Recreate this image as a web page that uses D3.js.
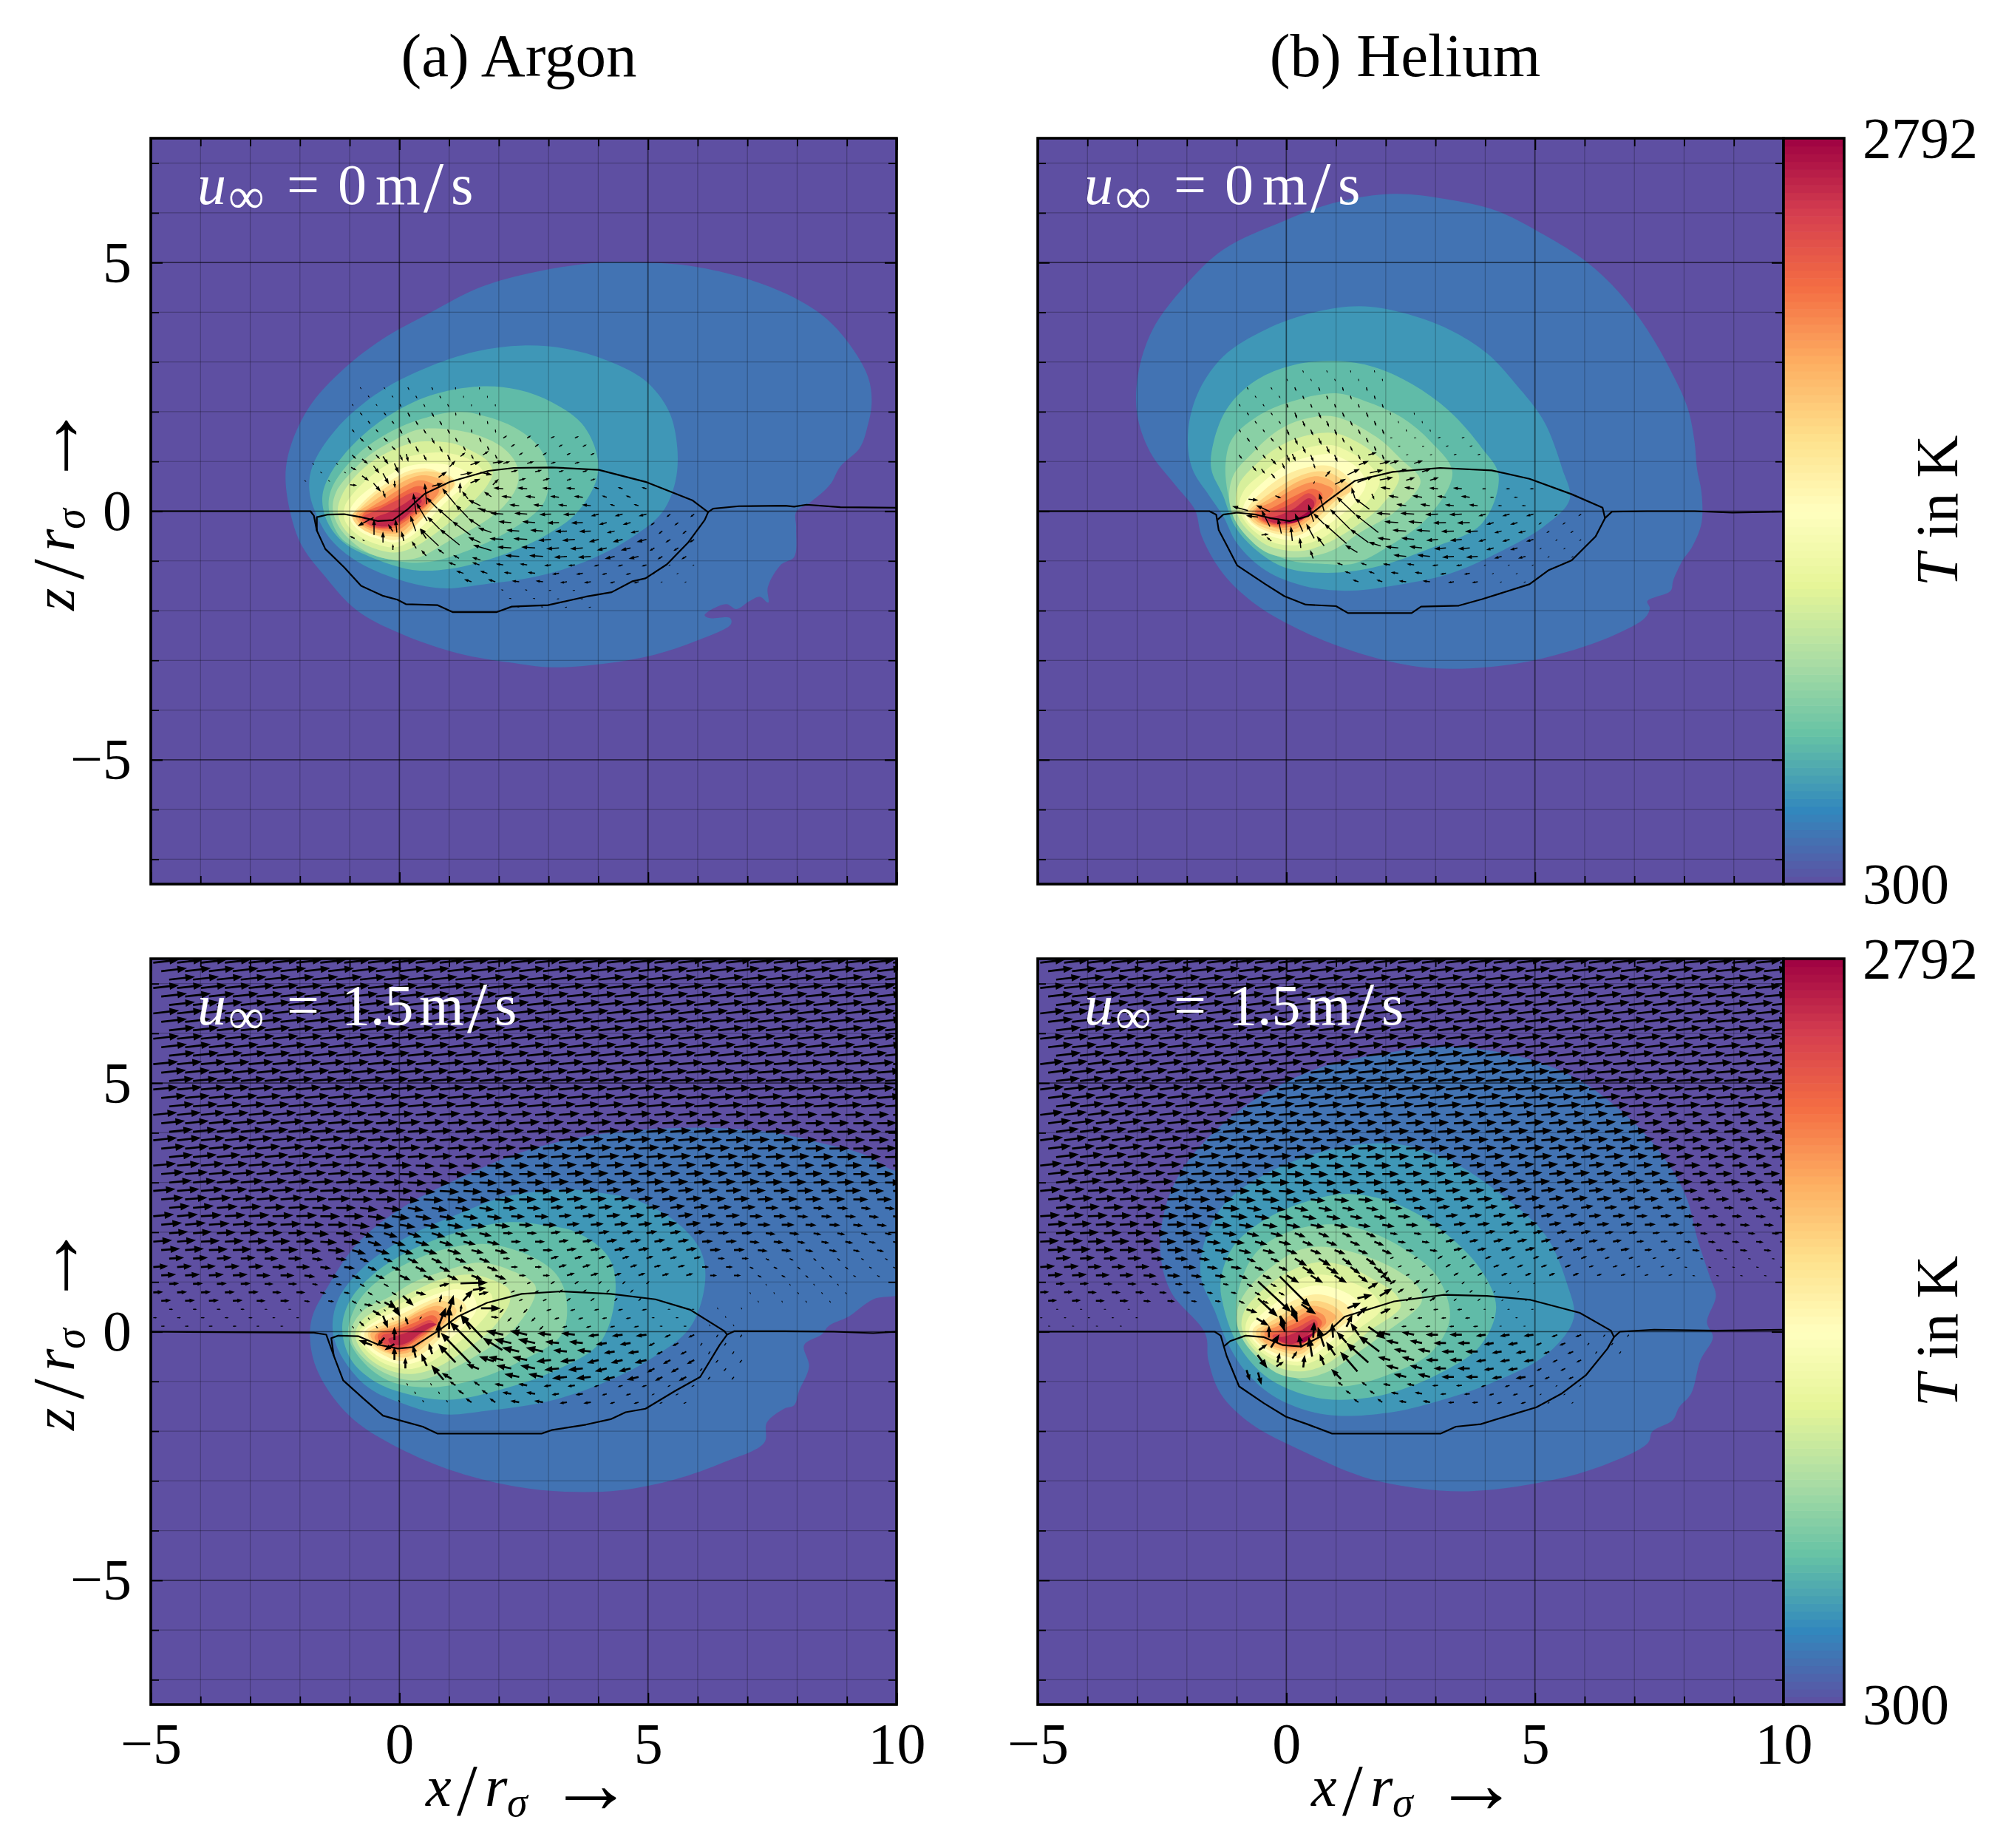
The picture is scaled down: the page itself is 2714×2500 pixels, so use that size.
<!DOCTYPE html>
<html><head><meta charset="utf-8">
<script src="https://cdn.jsdelivr.net/npm/d3@7"></script>
<style>html,body{margin:0;background:#fff}svg{display:block}text{font-family:"Liberation Serif",serif}</style>
</head><body><svg id="c" width="2714" height="2500"></svg>
<script>
const levelTemps=[300,456,612,767,923,1079,1235,1390,1546,1702,1858,2013,2169,2325,2481,2636,2792];
const spectralStops=[300,549,798,1048,1297,1546,1795,2044,2294,2543,2792];
const spectralColors=["#5e4fa2","#3288bd","#66c2a5","#abdda4","#e6f598","#ffffbf","#fee08b","#fdae61","#f46d43","#d53e4f","#9e0142"];
const xMajor=[-5,0,5,10], xMinor=[-4,-3,-2,-1,1,2,3,4,6,7,8,9];
const zMajor=[-5,0,5], zMinor=[-7,-6,-4,-3,-2,-1,1,2,3,4,6,7];
const cellX=[-5,-4,-3,-2,-1,0,1,2,3,4,5,6,7,8,9];
const bandTop=[7.5,6.5,5.5,4.5,3.5,3,2.5,2,1.5,1,.5,0,-.5,-1,-1.5];

/* isotherm outlines, [x/r, z/r], one list per level above the base colour */
const argonStillIso=[
[[4,5],[2.73,4.81],[1.62,4.5],[.6,3.98],[-.34,3.46],[-1.11,2.87],[-1.79,2.13],[-2.18,1.33],[-2.29,.71],[-2.18,-.09],[-1.96,-.7],[-1.54,-1.26],[-.85,-2],[.09,-2.49],[1.19,-2.86],[2.2,-3.04],[3.07,-3.14],[4.1,-3.07],[5.12,-2.89],[5.97,-2.61],[6.67,-2.27],[6.65,-2.15],[6.23,-2.15],[6.14,-2.09],[6.57,-1.87],[6.78,-1.97],[7.04,-1.81],[7.25,-1.72],[7.42,-1.84],[7.41,-1.53],[7.68,-1.07],[7.94,-.92],[7.98,-.33],[7.98,-.02],[8.28,.19],[8.66,.53],[8.87,.9],[9.26,1.27],[9.43,1.76],[9.5,2.19],[9.43,2.69],[9.05,3.36],[8.53,3.92],[7.76,4.38],[6.83,4.72],[5.8,4.94],[4.95,5]],
[[2.47,3.33],[1.54,3.21],[.51,2.87],[-.43,2.38],[-1.28,1.64],[-1.75,.9],[-1.81,.41],[-1.66,-.09],[-1.37,-.58],[-.85,-1.01],[0,-1.38],[.85,-1.55],[1.71,-1.47],[2.73,-1.32],[3.75,-1.01],[4.69,-.52],[5.29,-.02],[5.55,.59],[5.59,1.27],[5.42,2.01],[4.95,2.62],[4.18,3.03],[3.33,3.27]],
[[1.62,2.51],[.6,2.32],[-.26,1.89],[-.94,1.33],[-1.41,.71],[-1.55,.28],[-1.45,-.21],[-1.11,-.64],[-.51,-.95],[.26,-1.18],[1.02,-1.16],[2.05,-.89],[2.99,-.46],[3.58,-.02],[3.97,.65],[3.97,1.15],[3.67,1.76],[3.07,2.19],[2.39,2.44]],
[[1.19,2],[.34,1.82],[-.43,1.45],[-1.02,.96],[-1.38,.41],[-1.41,-.02],[-1.19,-.52],[-.77,-.79],[0,-1.01],[.6,-1.02],[1.28,-.83],[2.22,-.39],[2.9,.16],[3,.78],[2.82,1.27],[2.39,1.64],[1.79,1.89]],
[[.81,1.66],[.34,1.63],[-.15,1.4],[-.6,1.13],[-.97,.78],[-1.27,.39],[-1.34,.04],[-1.22,-.31],[-.97,-.6],[-.6,-.85],[-.1,-.98],[.4,-.93],[1,-.6],[1.6,-.28],[2.1,.1],[2.38,.55],[2.35,.95],[2.05,1.3],[1.5,1.55]],
[[.76,1.4],[.29,1.38],[-.2,1.2],[-.6,.96],[-.95,.63],[-1.17,.29],[-1.24,0],[-1.14,-.31],[-.9,-.55],[-.5,-.75],[-.05,-.83],[.34,-.7],[.84,-.36],[1.38,.09],[1.78,.54],[1.88,.78],[1.78,1],[1.48,1.2],[1.13,1.35]],
[[.69,1.18],[.19,1.1],[-.25,.93],[-.6,.68],[-.9,.39],[-1.1,.09],[-1.1,-.18],[-.9,-.43],[-.55,-.63],[-.1,-.73],[.24,-.6],[.64,-.31],[1.04,.09],[1.43,.54],[1.68,.78],[1.48,1],[1.09,1.15]],
[[.64,.96],[.19,.91],[-.2,.73],[-.55,.49],[-.85,.24],[-1,0],[-.97,-.21],[-.75,-.43],[-.45,-.55],[-.1,-.63],[.19,-.53],[.54,-.23],[.89,.14],[1.28,.49],[1.43,.68],[1.28,.83],[.99,.93]],
[[.54,.86],[.19,.81],[-.15,.63],[-.5,.39],[-.77,.14],[-.9,-.03],[-.85,-.23],[-.65,-.41],[-.35,-.53],[-.08,-.58],[.17,-.46],[.44,-.18],[.79,.19],[1.13,.54],[1.06,.68],[.84,.78]],
[[.5,.8],[.15,.72],[-.15,.55],[-.5,.32],[-.8,.05],[-.95,-.08],[-.85,-.28],[-.55,-.46],[-.2,-.5],[.05,-.5],[.25,-.35],[.5,-.1],[.75,.15],[1.1,.55],[1,.68],[.8,.77]],
[[.45,.72],[.15,.63],[-.2,.42],[-.6,.14],[-.88,-.08],[-.8,-.25],[-.5,-.42],[-.15,-.45],[.05,-.42],[.25,-.25],[.5,-.02],[.7,.2],[.95,.52],[.8,.65]],
[[.4,.62],[.1,.5],[-.25,.28],[-.7,0],[-.82,-.1],[-.72,-.27],[-.4,-.38],[-.1,-.4],[.1,-.3],[.3,-.12],[.55,.1],[.8,.42],[.65,.56]],
[[.35,.5],[.05,.36],[-.3,.15],[-.72,-.05],[-.75,-.18],[-.5,-.33],[-.15,-.35],[.1,-.22],[.35,-.03],[.6,.2],[.58,.38],[.5,.48]],
[[.3,.38],[-.05,.22],[-.45,.02],[-.72,-.12],[-.55,-.3],[-.2,-.32],[.05,-.2],[.3,-.02],[.52,.18],[.48,.32]],
[[.3,.28],[.1,.15],[-.2,-.02],[-.5,-.15],[-.5,-.27],[-.2,-.3],[.05,-.17],[.3,.05],[.45,.2],[.4,.28]]
];
const heliumStillIso=[
[[2.14,6.38],[1,6.21],[-.04,5.84],[-1.27,5.26],[-2.03,4.54],[-2.69,3.65],[-2.98,2.76],[-3,1.95],[-2.74,1.19],[-2.22,.51],[-1.84,.03],[-1.7,-.51],[-1.27,-1.26],[-.61,-1.88],[.34,-2.42],[1.38,-2.83],[2.52,-3.11],[3.47,-3.17],[4.61,-3.07],[5.65,-2.83],[6.6,-2.49],[7.21,-2.15],[7.31,-1.95],[7.26,-1.81],[7.73,-1.6],[7.78,-1.4],[7.97,-.99],[8.16,-.72],[8.35,-.24],[8.35,.38],[8.26,.85],[8.21,1.4],[8.07,2.08],[7.73,2.83],[7.26,3.65],[6.69,4.4],[6.03,5.02],[5.18,5.56],[4.23,6.04],[3.18,6.28]],
[[1.48,4.12],[.53,3.99],[-.42,3.65],[-1.27,3.11],[-1.79,2.35],[-1.98,1.54],[-1.89,.85],[-1.55,.31],[-1.27,-.1],[-.99,-.65],[-.42,-1.19],[.34,-1.5],[1.19,-1.6],[2.14,-1.5],[3.28,-1.26],[4.23,-.85],[5.18,-.31],[5.7,.24],[5.55,.85],[5.18,1.81],[4.61,2.56],[4.04,3.17],[3.28,3.65],[2.33,3.99]],
[[1,3.02],[.15,2.94],[-.61,2.63],[-1.18,2.08],[-1.46,1.4],[-1.51,.85],[-1.27,.31],[-1.03,-.31],[-.61,-.78],[-.04,-1.13],[.82,-1.24],[1.76,-1.13],[2.81,-.78],[3.94,-.24],[4.27,.72],[3.94,1.26],[3.28,2.01],[2.52,2.56],[1.76,2.9]],
[[1,2.37],[.15,2.22],[-.51,1.95],[-1.08,1.47],[-1.22,.99],[-1.18,.38],[-.99,-.24],[-.51,-.72],[.06,-.99],[.72,-1.06],[1.37,-1.05],[2.07,-.7],[2.87,-.1],[3.34,.78],[2.9,1.4],[2.33,1.88],[1.57,2.22]],
[[.98,1.9],[.35,1.85],[-.2,1.6],[-.7,1.15],[-1.05,.75],[-1.15,.3],[-1.05,-.15],[-.8,-.5],[-.35,-.85],[.3,-.93],[.9,-.8],[1.5,-.42],[2.2,0],[2.7,.6],[2.3,1.05],[1.8,1.5]],
[[.98,1.57],[.4,1.52],[-.15,1.3],[-.6,.95],[-.95,.55],[-1.02,.2],[-.95,-.15],[-.65,-.5],[-.3,-.72],[.3,-.8],[.8,-.65],[1.4,-.3],[1.9,.1],[2.27,.7],[1.9,1.05],[1.5,1.35]],
[[.9,1.33],[.4,1.27],[-.1,1.05],[-.5,.75],[-.85,.42],[-.95,.12],[-.85,-.18],[-.55,-.48],[-.2,-.65],[.25,-.68],[.7,-.55],[1.2,-.2],[1.6,.15],[1.88,.6],[1.65,.95],[1.25,1.2]],
[[.9,1.15],[.4,1.08],[-.05,.9],[-.45,.6],[-.75,.3],[-.87,.05],[-.78,-.2],[-.5,-.42],[-.15,-.55],[.2,-.58],[.6,-.42],[1.05,-.12],[1.4,.2],[1.6,.55],[1.45,.85],[1.15,1.05]],
[[.75,.92],[.3,.85],[-.1,.68],[-.45,.42],[-.72,.15],[-.8,-.02],[-.72,-.2],[-.45,-.38],[-.1,-.48],[.2,-.5],[.5,-.35],[.8,-.08],[1.15,.25],[1.35,.52],[1.2,.72],[.95,.88]],
[[.6,.8],[.2,.68],[-.2,.45],[-.6,.15],[-.76,-.02],[-.68,-.2],[-.4,-.35],[-.05,-.43],[.22,-.42],[.5,-.25],[.75,-.02],[1,.22],[1.33,.45],[1.1,.65],[.85,.78]],
[[.55,.7],[.2,.58],[-.2,.33],[-.6,.08],[-.7,-.04],[-.6,-.2],[-.35,-.3],[-.02,-.38],[.2,-.35],[.45,-.18],[.7,.05],[1.1,.42],[.95,.58],[.75,.68]],
[[.5,.58],[.1,.42],[-.3,.18],[-.62,.02],[-.62,-.1],[-.45,-.25],[-.1,-.33],[.2,-.28],[.45,-.1],[.7,.13],[.95,.42],[.75,.54]],
[[.5,.45],[.1,.27],[-.3,.06],[-.6,-.03],[-.55,-.15],[-.3,-.27],[0,-.28],[.25,-.2],[.5,-.03],[.7,.2],[.72,.35],[.6,.43]],
[[.45,.36],[.1,.15],[-.3,-.02],[-.5,-.12],[-.4,-.22],[-.1,-.27],[.15,-.22],[.4,-.07],[.58,.12],[.6,.25]],
[[.45,.26],[.15,.05],[-.2,-.1],[-.42,-.14],[-.3,-.22],[-.05,-.25],[.15,-.2],[.35,-.08],[.55,.08],[.55,.2]],
[[.5,.02],[.3,-.1],[.1,-.18],[-.05,-.22],[.05,-.25],[.25,-.2],[.45,-.08],[.53,-.02]]
];
const argonFlowIso=[
[[6.25,4.1],[5.05,4.07],[3.75,3.93],[2.46,3.61],[1.17,3.07],[.07,2.5],[-.83,1.79],[-1.42,.94],[-1.77,.23],[-1.75,-.48],[-1.47,-1.12],[-.93,-1.76],[-.03,-2.33],[1.17,-2.83],[2.36,-3.12],[3.36,-3.22],[4.45,-3.19],[5.55,-2.97],[6.54,-2.62],[7.34,-2.23],[7.39,-1.83],[7.74,-1.55],[7.94,-1.48],[8.04,-1.19],[8.24,-.7],[8.14,-.27],[8.49,-.06],[8.64,.12],[9.03,.3],[9.53,.65],[10.2,.83],[10.2,3.1],[9.83,3.29],[9.33,3.57],[8.54,3.78],[7.54,4]],
[[3.36,2.86],[2.16,2.72],[1.17,2.36],[.07,1.86],[-.73,1.29],[-1.23,.65],[-1.34,.01],[-1.13,-.55],[-.63,-1.12],[-.03,-1.41],[.87,-1.66],[1.76,-1.59],[2.96,-1.41],[4.05,-1.05],[5.05,-.55],[5.85,.09],[6.15,1.01],[6.05,1.65],[5.55,2.22],[4.75,2.65],[4.05,2.79]],
[[2.16,2.2],[1.17,2],[.17,1.61],[-.53,1.15],[-.98,.65],[-1.15,.09],[-.98,-.55],[-.53,-.98],[.07,-1.23],[.97,-1.37],[2.06,-1.16],[3.16,-.77],[4.05,-.2],[4.35,.87],[4.2,1.51],[3.56,2],[2.86,2.15]],
[[1.76,1.76],[.87,1.65],[.07,1.33],[-.53,.94],[-.88,.51],[-1.03,-.06],[-.78,-.55],[-.23,-.98],[.57,-1.12],[1.46,-.98],[2.36,-.63],[3.26,-.06],[3.36,.65],[3.16,1.15],[2.66,1.51]],
[[1.6,1.39],[1,1.25],[.3,1],[-.2,.7],[-.7,.45],[-.95,.1],[-.95,-.2],[-.7,-.55],[-.25,-.85],[.3,-.98],[.9,-.82],[1.6,-.45],[2.3,.05],[2.72,.7],[2.72,.95],[2.2,1.25]],
[[1.45,1.15],[.9,1.07],[.3,.82],[-.25,.52],[-.7,.28],[-.88,0],[-.85,-.22],[-.6,-.55],[-.2,-.78],[.25,-.85],[.75,-.72],[1.4,-.32],[1.9,.1],[2.22,.6],[2.2,.85],[1.85,1.05]],
[[1.2,.97],[.7,.87],[.2,.65],[-.3,.4],[-.68,.15],[-.82,-.02],[-.78,-.22],[-.5,-.52],[-.15,-.7],[.25,-.75],[.65,-.6],[1.15,-.25],[1.55,.1],[1.85,.5],[1.85,.75],[1.6,.9]],
[[1.1,.85],[.65,.72],[.15,.5],[-.35,.28],[-.7,.05],[-.78,-.05],[-.7,-.25],[-.45,-.48],[-.1,-.63],[.2,-.65],[.55,-.52],[.95,-.2],[1.3,.1],[1.55,.45],[1.5,.7],[1.35,.82]],
[[.95,.72],[.55,.6],[.1,.38],[-.4,.18],[-.68,.02],[-.7,-.1],[-.55,-.32],[-.3,-.48],[-.05,-.58],[.2,-.57],[.5,-.42],[.8,-.15],[1.1,.15],[1.35,.45],[1.25,.62]],
[[.85,.62],[.5,.5],[.1,.28],[-.4,.1],[-.62,0],[-.62,-.12],[-.45,-.33],[-.2,-.45],[.05,-.52],[.25,-.48],[.5,-.3],[.75,-.08],[1,.18],[1.15,.42],[1.05,.55]],
[[.75,.52],[.4,.4],[.05,.2],[-.4,.04],[-.58,-.04],[-.52,-.2],[-.3,-.38],[-.05,-.45],[.18,-.42],[.45,-.25],[.68,-.03],[.9,.18],[1,.38],[.9,.48]],
[[.7,.43],[.35,.3],[0,.12],[-.45,-.03],[-.5,-.12],[-.35,-.3],[-.1,-.4],[.15,-.37],[.4,-.2],[.6,-.02],[.82,.18],[.85,.32]],
[[.65,.33],[.3,.18],[-.05,.05],[-.42,-.05],[-.42,-.17],[-.25,-.3],[-.03,-.35],[.15,-.3],[.4,-.13],[.62,.03],[.77,.2],[.75,.28]],
[[.6,.23],[.25,.08],[-.1,-.02],[-.35,-.08],[-.35,-.2],[-.15,-.3],[.05,-.3],[.25,-.2],[.45,-.05],[.65,.1],[.7,.18]],
[[.6,.17],[.25,.02],[-.1,-.1],[-.22,-.15],[-.18,-.24],[0,-.27],[.2,-.2],[.4,-.05],[.6,.07],[.75,.15]]
];
const heliumFlowIso=[
[[3.16,5.74],[2.04,5.61],[.8,5.35],[-.32,4.86],[-1.32,4.14],[-2.07,3.3],[-2.44,2.47],[-2.53,1.56],[-2.32,.8],[-1.63,-.04],[-1.57,-.57],[-1.32,-1.25],[-.7,-1.86],[.3,-2.39],[1.54,-2.92],[2.67,-3.15],[3.66,-3.21],[4.91,-3.07],[6.15,-2.77],[7.27,-2.24],[7.36,-2.01],[7.77,-1.78],[7.9,-1.52],[8.14,-1.25],[8.33,-.57],[8.58,-.11],[8.46,.19],[8.64,.72],[8.52,1.1],[8.27,1.86],[8.02,2.77],[7.4,3.76],[6.65,4.51],[5.78,5.12],[4.66,5.54]],
[[1.92,3.79],[.8,3.64],[-.32,3.22],[-1.2,2.62],[-1.63,1.86],[-1.72,1.1],[-1.44,.42],[-1.2,-.19],[-.82,-.8],[-.2,-1.33],[.8,-1.67],[2.04,-1.63],[3.04,-1.4],[4.16,-1.02],[5.28,-.42],[5.78,.27],[5.65,.95],[5.22,1.93],[4.41,2.69],[3.41,3.38],[2.67,3.68]],
[[1.3,2.77],[.42,2.62],[-.45,2.24],[-1.07,1.71],[-1.32,1.02],[-1.26,.49],[-1.01,-.19],[-.45,-.87],[.3,-1.25],[1.05,-1.37],[2.04,-1.25],[3.16,-.8],[3.91,-.27],[4.22,.49],[3.91,1.25],[3.16,2.01],[2.29,2.54]],
[[.92,2.16],[.05,2.01],[-.57,1.63],[-.88,1.1],[-1.01,.42],[-.76,-.27],[-.2,-.72],[.42,-1.02],[1.17,-1.1],[2.04,-.87],[2.91,-.42],[3.29,.27],[3.04,1.1],[2.42,1.63],[1.67,2.01]],
[[.7,1.71],[.2,1.62],[-.3,1.3],[-.7,.95],[-.95,.55],[-1,.2],[-.85,-.2],[-.55,-.55],[-.15,-.85],[.35,-.93],[.85,-.8],[1.4,-.45],[1.95,-.05],[2.72,.6],[2.65,.9],[2.2,1.25],[1.5,1.55]],
[[.7,1.4],[.25,1.3],[-.2,1.05],[-.6,.72],[-.85,.4],[-.9,.1],[-.78,-.2],[-.5,-.5],[-.15,-.72],[.3,-.8],[.75,-.68],[1.2,-.38],[1.65,0],[2.3,.5],[2.2,.75],[1.75,1.05],[1.25,1.3]],
[[.7,1.15],[.25,1.05],[-.2,.8],[-.55,.52],[-.78,.25],[-.82,.02],[-.7,-.22],[-.45,-.45],[-.1,-.62],[.28,-.68],[.65,-.55],[1.05,-.28],[1.45,.05],[1.9,.45],[1.75,.75],[1.3,1]],
[[.65,.93],[.25,.85],[-.15,.62],[-.5,.35],[-.72,.12],[-.74,-.05],[-.62,-.22],[-.38,-.42],[-.08,-.55],[.25,-.6],[.55,-.47],[.9,-.2],[1.3,.1],[1.55,.4],[1.4,.65],[1.05,.85]],
[[.6,.75],[.2,.65],[-.15,.45],[-.45,.22],[-.67,.05],[-.66,-.1],[-.5,-.28],[-.25,-.42],[0,-.5],[.25,-.53],[.5,-.4],[.8,-.15],[1.1,.1],[1.35,.33],[1.2,.55],[.9,.7]],
[[.55,.62],[.2,.5],[-.15,.3],[-.45,.12],[-.6,.03],[-.58,-.12],[-.4,-.28],[-.15,-.38],[.1,-.45],[.3,-.45],[.5,-.3],[.75,-.08],[.95,.1],[1.15,.3],[1,.48],[.8,.58]],
[[.5,.52],[.2,.4],[-.15,.2],[-.45,.05],[-.52,-.03],[-.45,-.2],[-.2,-.32],[.05,-.38],[.28,-.38],[.5,-.22],[.7,-.02],[.88,.15],[1,.3],[.8,.45]],
[[.5,.42],[.2,.28],[-.2,.1],[-.43,0],[-.42,-.12],[-.2,-.25],[.05,-.33],[.28,-.32],[.5,-.15],[.65,.02],[.8,.18],[.75,.33]],
[[.5,.33],[.2,.18],[-.15,.03],[-.35,-.05],[-.3,-.15],[-.1,-.25],[.1,-.3],[.3,-.27],[.5,-.1],[.65,.05],[.72,.18],[.65,.28]],
[[.55,.25],[.25,.1],[-.1,-.03],[-.28,-.08],[-.2,-.18],[0,-.25],[.15,-.28],[.3,-.23],[.5,-.05],[.62,.08],[.62,.2]],
[[.55,.18],[.3,.03],[-.05,-.1],[-.2,-.12],[-.1,-.2],[.1,-.25],[.3,-.18],[.45,-.05],[.58,.08],[.6,.15]],
[[.55,-.02],[.35,-.12],[.2,-.2],[.35,-.22],[.5,-.1],[.6,0]]
];

/* melt-pool outlines: left surface + pool bottom + right surface, and the keyhole-side top */
const argonStillPool=[[-5,0],[-1.79,0],[-1.72,-.09],[-1.66,-.39],[-1.49,-.76],[-1.11,-1.13],[-.77,-1.5],[-.34,-1.7],[-.04,-1.78],[.13,-1.87],[.77,-1.89],[1.07,-2.03],[1.96,-2.03],[2.26,-1.92],[2.99,-1.89],[3.75,-1.72],[4.27,-1.63],[4.69,-1.41],[4.95,-1.35],[5.38,-1.07],[5.8,-.64],[6.14,-.18],[6.21,-.02],[6.31,.05],[6.83,.1],[7.76,.11],[7.94,.09],[8.19,.13],[8.87,.08],[10,.07]];
const argonStillTop=[[6.21,-.02],[5.89,.22],[4.95,.59],[4.01,.83],[3.07,.88],[2.3,.87],[1.79,.81],[1.02,.59],[.51,.35],[.17,.04],[-.13,-.18],[-.43,-.2],[-.77,-.12],[-1.11,-.06],[-1.45,-.07],[-1.66,-.12],[-1.66,-.39]];
const heliumStillPool=[[-5,0],[-1.55,0],[-1.41,-.07],[-1.36,-.38],[-1.18,-.72],[-.99,-1.09],[-.42,-1.47],[-.04,-1.71],[.39,-1.88],[1,-1.91],[1.24,-2.05],[2.52,-2.05],[2.71,-1.92],[3.47,-1.9],[3.94,-1.77],[4.89,-1.47],[5.27,-1.19],[5.74,-.99],[6.22,-.51],[6.41,-.14],[6.55,-.01],[7.26,0],[8.21,0],[8.97,-.03],[10,-.01]];
const heliumStillTop=[[6.41,-.14],[6.36,.07],[5.74,.34],[4.89,.65],[4.13,.82],[3.09,.87],[2.14,.79],[1.38,.61],[.82,.2],[.44,-.1],[.06,-.2],[-.32,-.14],[-.61,-.07],[-.99,-.03],[-1.27,-.07],[-1.38,-.17]];
const argonFlowPool=[[-5,0],[-1.72,-.02],[-1.47,-.06],[-1.32,-.48],[-1.13,-.98],[-.73,-1.34],[-.33,-1.69],[.07,-1.8],[.47,-1.91],[.77,-2.05],[2.86,-2.05],[3.06,-1.98],[3.75,-1.87],[4.25,-1.76],[4.55,-1.62],[4.95,-1.55],[5.55,-1.19],[6.05,-.91],[6.44,-.27],[6.59,-.06],[6.74,.01],[7.74,.01],[8.74,0],[9.53,-.03],[10,0]];
const argonFlowTop=[[6.59,-.06],[6.54,.01],[5.85,.44],[5.15,.65],[4.25,.76],[3.26,.81],[2.46,.76],[1.76,.58],[1.17,.3],[.77,.01],[.27,-.31],[-.03,-.34],[-.43,-.26],[-.83,-.09],[-1.23,-.08],[-1.37,-.13],[-1.32,-.48]];
const heliumFlowPool=[[-5,0],[-1.44,0],[-1.32,-.08],[-1.2,-.49],[-.95,-1.1],[-.45,-1.44],[-.01,-1.71],[.42,-1.86],[.92,-2.05],[3.1,-2.05],[3.41,-1.91],[3.91,-1.86],[4.53,-1.67],[5.03,-1.52],[5.53,-1.25],[6.03,-.87],[6.46,-.34],[6.59,-.11],[6.71,0],[7.4,.04],[8.64,.02],[10,.04]];
const heliumFlowTop=[[6.59,-.11],[6.53,.02],[5.9,.38],[4.91,.64],[4.03,.72],[3.16,.74],[2.17,.61],[1.17,.3],[.8,-.04],[.3,-.3],[-.07,-.27],[-.45,-.11],[-.82,-.08],[-1.13,-.19],[-1.26,-.3]];

/* flow read per cell (hundredths of an arrow length in x/r units): rows follow bandTop, columns follow cellX */
const z15=[0,0,0,0,0,0,0,0,0,0,0,0,0,0,0];
const argonStillU=[z15,z15,z15,z15,
[0,0,0,0,0,1,1,1,0,0,0,0,0,0,0],
[0,0,0,0,1,1,0,-1,0,0,0,0,0,0,0],
[0,0,0,1,3,3,0,-1,-1,0,0,0,0,0,0],
[0,0,0,2,5,5,1,-1,-1,0,0,0,0,0,0],
[0,0,0,3,8,6,4,8,8,2,0,0,0,0,0],
[0,0,0,4,0,0,0,14,10,3,1,0,0,0,0],
[0,0,0,1,0,0,0,-20,-18,-10,-3,1,0,0,0],
[0,0,0,0,0,0,0,-26,-24,-16,-8,-1,0,0,0],
[0,0,0,0,0,0,0,-28,-26,-20,-10,-1,0,0,0],
[0,0,0,0,-2,-2,-15,-15,-14,-10,-4,0,0,0,0],
[0,0,0,0,0,0,-4,-5,-5,-3,0,0,0,0,0]];
const argonStillV=[z15,z15,z15,z15,
[0,0,0,0,-2,-3,-2,-1,0,0,0,0,0,0,0],
[0,0,0,-1,-3,-4,-3,-2,0,0,0,0,0,0,0],
[0,0,0,-2,-4,-6,-5,-3,-1,0,0,0,0,0,0],
[0,0,-1,-3,-6,-9,-7,-3,-1,0,0,0,0,0,0],
[0,0,0,-3,-8,-12,-9,5,4,1,0,0,0,0,0],
[0,0,0,-3,0,0,0,4,3,2,1,0,0,0,0],
[0,0,0,0,0,0,0,2,2,3,-3,2,0,0,0],
[0,0,0,0,0,0,0,2,-1,-4,-6,-4,0,0,0],
[0,0,0,0,0,0,0,2,-2,-5,-6,-2,0,0,0],
[0,0,0,0,3,3,5,2,-2,-3,-2,0,0,0,0],
[0,0,0,0,0,0,1,1,-1,-1,0,0,0,0,0]];
const heliumStillU=[z15,z15,z15,z15,
[0,0,0,0,0,1,1,0,0,0,0,0,0,0,0],
[0,0,0,0,1,2,1,0,0,0,0,0,0,0,0],
[0,0,0,1,3,3,2,1,0,0,0,0,0,0,0],
[0,0,0,2,4,5,4,1,0,0,0,0,0,0,0],
[0,0,0,2,6,6,4,5,6,1,0,0,0,0,0],
[0,0,0,2,0,0,0,18,4,1,0,0,0,0,0],
[0,0,0,0,0,0,0,-20,-18,-8,-2,0,0,0,0],
[0,0,0,0,0,0,0,-28,-26,-15,-6,-1,0,0,0],
[0,0,0,0,0,0,0,-26,-24,-15,-4,0,0,0,0],
[0,0,0,0,0,0,-12,-15,-12,-4,0,0,0,0,0],
[0,0,0,0,0,0,-1,-3,-2,0,0,0,0,0,0]];
const heliumStillV=[z15,z15,z15,z15,
[0,0,0,0,-1,-3,-3,-1,0,0,0,0,0,0,0],
[0,0,0,0,-3,-5,-5,-2,0,0,0,0,0,0,0],
[0,0,0,-1,-5,-8,-8,-4,-1,0,0,0,0,0,0],
[0,0,0,-2,-6,-12,-10,-5,-1,0,0,0,0,0,0],
[0,0,0,-2,-8,-14,-10,1,2,1,0,0,0,0,0],
[0,0,0,-2,0,0,0,6,1,2,0,0,0,0,0],
[0,0,0,0,0,0,0,3,2,0,-2,0,0,0,0],
[0,0,0,0,0,0,0,2,-1,-4,-4,-1,0,0,0],
[0,0,0,0,0,0,0,3,-2,-4,-3,0,0,0,0],
[0,0,0,0,0,0,4,2,-2,-2,0,0,0,0,0],
[0,0,0,0,0,0,0,1,0,0,0,0,0,0,0]];
const argonFlowU=[
[52,52,52,52,52,52,52,52,52,52,52,52,52,52,52],
[52,52,52,52,52,52,52,52,52,52,52,52,52,52,52],
[50,50,50,50,50,50,50,50,50,50,50,50,50,50,50],
[48,48,48,46,44,42,42,42,42,42,42,40,40,40,40],
[46,46,45,44,40,38,36,36,36,36,36,36,34,34,34],
[45,45,45,45,42,40,38,35,32,30,32,32,32,32,30],
[42,42,42,40,36,32,30,28,26,28,30,28,26,22,20],
[38,38,36,34,28,28,25,20,20,22,22,22,20,16,14],
[30,30,28,22,18,22,22,14,16,14,14,14,8,6,6],
[20,20,18,12,10,0,0,8,8,6,2,3,2,3,3],
[8,8,6,3,4,0,0,-8,-10,-10,-6,-2,1,1,1],
[0,0,0,0,0,0,0,-35,-28,-22,-12,-4,0,0,0],
[0,0,0,0,0,0,0,-30,-30,-24,-15,-5,0,0,0],
[0,0,0,0,0,-3,-12,-18,-15,-10,-6,-2,0,0,0],
[0,0,0,0,0,0,-3,-4,-3,-2,-1,0,0,0,0]];
const argonFlowV=[
[6,6,6,6,6,6,6,6,6,6,6,6,6,6,6],
[6,6,6,6,6,6,6,6,6,6,6,6,6,6,6],
[5,5,5,5,5,5,5,5,5,5,4,4,4,4,4],
[5,5,5,4,3,3,3,3,3,3,3,2,2,1,1],
[4,4,4,3,1,-1,-1,0,2,2,2,2,1,1,0],
[4,4,4,2,0,-2,-2,0,2,3,3,2,1,1,0],
[4,3,2,0,-4,-5,-4,-1,2,3,4,2,0,-1,-2],
[3,2,1,-2,-8,-8,-6,0,3,4,4,1,-2,-3,-3],
[2,2,0,-3,-7,-10,-8,0,5,5,4,0,-4,-5,-3],
[1,1,0,-2,-6,0,0,4,6,6,2,3,-4,-4,-3],
[0,0,0,0,-5,0,0,-8,-3,-2,0,4,1,0,0],
[0,0,0,0,0,0,0,8,3,-3,-6,-6,0,0,0],
[0,0,0,0,0,0,0,6,-3,-6,-8,-6,0,0,0],
[0,0,0,0,0,5,8,3,-2,-3,-3,-2,0,0,0],
[0,0,0,0,0,0,1,1,0,-1,-1,0,0,0,0]];
const heliumFlowU=[
[50,50,50,50,50,50,50,50,50,50,50,50,50,50,50],
[50,50,50,50,50,50,50,50,50,50,50,50,50,50,50],
[48,48,48,48,48,48,48,48,48,48,48,48,48,48,48],
[46,46,46,44,42,40,38,38,38,38,38,38,36,36,36],
[44,44,44,42,38,36,34,32,32,34,34,32,32,32,32],
[42,42,42,38,34,30,30,30,30,30,30,30,28,26,26],
[40,40,38,34,30,28,25,25,25,25,25,25,22,20,20],
[38,36,34,28,25,22,20,16,18,20,20,18,15,15,15],
[30,28,26,22,18,25,20,8,10,12,12,10,8,6,6],
[18,18,15,12,12,0,0,12,6,4,1,1,1,1,1],
[5,5,4,2,0,0,0,-10,-10,-5,-2,-1,1,1,1],
[0,0,0,0,0,0,0,-25,-25,-20,-12,-4,0,0,0],
[0,0,0,0,0,0,0,-25,-25,-20,-10,-3,0,0,0],
[0,0,0,0,-2,-1,-10,-15,-12,-10,-4,-1,0,0,0],
[0,0,0,0,0,0,-2,-3,-3,-2,-1,0,0,0,0]];
const heliumFlowV=[
[6,6,6,6,6,6,6,6,6,6,6,6,6,5,5],
[6,6,6,6,6,6,6,6,6,6,6,6,6,5,5],
[6,6,6,6,6,5,5,5,5,4,4,4,4,4,4],
[6,6,5,4,3,2,2,2,2,3,3,3,3,2,2],
[5,4,3,2,0,-1,0,1,2,3,3,3,2,1,1],
[4,3,2,0,-2,-3,-2,0,2,4,4,3,2,1,0],
[3,2,1,-2,-4,-5,-4,-1,3,4,4,2,1,0,-1],
[2,1,0,-3,-6,-8,-8,-2,4,5,5,3,1,-1,-1],
[2,1,-1,-3,-7,-15,-14,3,6,5,5,3,2,-1,-1],
[1,0,-1,-2,-6,0,0,8,5,3,1,2,0,0,0],
[0,0,0,0,0,0,0,-1,-1,0,0,0,0,0,0],
[0,0,0,0,0,0,0,5,0,-3,-5,-5,0,0,0],
[0,0,0,0,0,0,0,6,0,-3,-5,-3,0,0,0],
[0,0,0,0,-3,3,7,3,-1,-3,-3,-1,0,0,0],
[0,0,0,0,0,0,1,0,0,-1,0,0,0,0,0]];

/* individually read arrows near the heat source: [x, z, dx, dz] */
const argonStillArrows=[[-.75,1.05,.12,-.1],[-.52,.91,.12,-.15],[-.33,1.1,.11,-.16],[-.1,.96,.09,-.2],[-.33,.76,.12,-.22],[-.52,.56,.15,-.17],[-.75,.71,.14,-.1],[-.97,.88,.11,-.06],[-.1,.61,.01,-.15],[-.33,.41,.05,-.15],[-.99,.53,.14,-.01],[.14,1.15,.04,-.16],[.79,.68,.17,.12],[1.01,.89,.12,.13],[1.43,.93,.2,.07],[1.88,.97,.22,.03],[1.23,1.1,.1,.08],[1.68,1.13,.12,.08],[1.23,.73,.25,.05],[1.63,.78,.24,-.05],[1.43,.57,.2,.08],[.66,.5,.22,.06],[1.88,.53,.12,.12],
[1.22,.37,0,.21],[1.63,-.31,-.25,.17],[1.38,-.13,-.25,.26],[1.13,.13,-.27,.33],[1.43,-.48,-.37,.28],[1.06,-.2,-.3,.26],[.76,.06,-.22,.22],[1.21,-.68,-.4,.32],[.81,-.36,-.25,.25],[.79,-.7,-.37,.35],[.56,-.2,-.22,.37],[.33,-.4,-.11,.31],[.34,-.06,-.06,.42],[.55,.14,-.04,.42],[-.05,-.43,-.03,.27],[-.33,-.63,0,.22],[-.51,-.48,0,.32],[-.13,-.41,-.1,.15],[-.52,-.13,-.32,-.17],[.09,-.6,-.05,.2],[.34,-.75,-.09,.15],[.54,-.55,-.13,.2],[-.13,-.78,0,.12],[.54,-.9,-.1,.12],[-.7,-.6,-.05,.03],[-.9,-.55,-.1,.05],
[1.63,.11,-.25,.12],[1.38,.25,-.12,.15],[1.85,.29,-.15,.1],[1.68,.04,-.12,.02],[1.98,-.06,-.37,.1],[1.85,-.43,-.27,.1],[1.63,-.63,-.25,.11],[1.85,-.79,-.37,.11],[1.63,-.98,-.17,.05],[.89,-.85,-.12,.09],[1.2,-.95,-.12,.07]];
const heliumStillArrows=[[-.3,1.05,.1,-.12],[.12,1.15,.07,-.15],[-.08,.96,.05,-.12],[-.5,.85,.07,-.1],[-.68,.9,.08,-.1],[-.3,.75,.08,-.1],[.55,.95,.03,-.1],
[-.77,.01,-.32,.09],[-.33,-.01,-.28,.13],[-.57,-.12,-.24,.03],[-.33,-.31,-.17,.33],[-.1,-.45,-.07,.31],[.12,-.6,-.03,.3],[.33,-.41,-.16,.37],[.56,-.55,-.16,.3],[.55,-.21,-.11,.35],[.76,0,-.1,.36],[.29,-.74,-.02,.21],[.76,-.7,-.15,.2],[1.21,-.65,-.45,.4],[.76,-.26,-.22,.22],[1.65,-.63,-.37,.27],[1.28,-.36,-.4,.4],[1.85,-.43,-.47,.37],[1.38,-.06,-.37,.35],[1.67,.04,-.3,.22],[1.38,.26,-.07,.22],[1.43,-.83,-.25,.15],[1.9,-.7,-.25,.08],[.54,-.95,-.06,.17],[-.5,-.48,.15,.02],[-.3,-.6,-.1,.08],
[.79,.7,.1,.12],[.98,.54,.22,.11],[1.23,.73,.25,.12],[1.46,.93,.2,.08],[1.68,.77,.27,.06],[1.43,.58,.32,.12],[1.88,.63,.27,.05],[1.88,.95,.22,.06],[1.65,1.13,.17,.05],[-.76,.24,.2,-.02],[-.22,.31,.12,-.05],[1.72,.35,.05,-.12],[.55,.55,.02,.06]];
const argonFlowArrows=[[-.1,-.57,0,.27],[-.1,-.17,0,.27],[.12,-.74,0,.22],[.33,-.52,-.06,.25],[.55,-.69,-.11,.25],[.66,-.45,-.07,.22],[.79,-.12,0,.32],[.79,.12,.15,.37],[1,.05,0,.47],[.99,.37,.1,.37],[1.23,.4,.02,.15],[1.28,.62,.2,.22],[1.48,.84,.27,.04],[.81,.6,.04,.15],[1.43,.05,-.2,.3],[1.67,-.12,-.45,.47],[2.07,-.37,-.4,.25],[1.63,-.42,-.62,.62],[1.43,-.64,-.6,.62],[1.13,-.62,-.35,.37],[.89,-.97,-.25,.3],[-.55,-.27,-.27,.1],[-.3,-.12,-.15,-.17],[-.1,-.25,-.2,-.12],[.17,.15,-.05,.15],[-.33,.32,.1,-.25],[-.53,.42,.17,-.1],[-.18,.62,.2,-.32],[.07,.72,.22,-.2],[.34,.79,.2,-.05],[-.3,.59,.22,-.12],[-.7,.55,.17,-.03],[.81,.92,.2,.05],[1.23,.97,.55,.02],[1.64,.47,.4,0],[1.05,-.95,-.2,.12],[.2,-.98,.03,-.02],[.45,.3,-.05,-.05],[1.6,.75,.2,.05],[1.85,.3,.15,-.02],[1.6,-.75,-.25,.1],[1.9,-.6,-.3,.1],[-.8,.2,.1,-.1]];
const heliumFlowArrows=[[-.18,-.62,.05,.2],[-.58,-.47,.2,-.27],[-.55,-.37,.17,.12],[-.31,-.32,.17,.27],[-.35,-.12,0,.25],[-.03,0,-.08,.33],[.22,.2,-.12,.32],[.34,-.72,.03,.25],[.12,-.54,.1,.15],[.3,-.32,-.05,.27],[.52,-.5,-.07,.4],[.76,-.3,-.13,.4],[.54,-.12,.02,.32],[.76,-.67,-.09,.22],[.98,-.47,-.18,.27],[1.21,.1,.12,.25],[.94,-.12,-.02,.3],[1.87,-.4,-.42,.32],[1.46,-.07,-.17,.25],[1.65,-.62,-.45,.4],[1.21,-.22,-.2,.22],[1.43,-.8,-.35,.4],[1.1,-.95,-.2,.2],[-.13,1.11,.62,-.62],[-.57,1.01,.67,-.62],[-.8,.45,.22,-.07],[-.6,.27,.25,-.15],[-.57,.67,.4,-.37],[.09,.52,.14,-.32],[-.13,.32,.1,-.32],[-.8,-.77,.07,-.22],[-.57,-.82,.07,-.25],[1.23,.47,.27,.11],[1.43,.67,.3,.07],[1.43,.32,.2,.19],[1.88,.72,.25,.15],[1.9,.37,.2,.1],[1.65,.87,.2,.12],[1.9,1.09,.15,.12],[1.65,.1,.35,-.25],[.3,.55,.3,-.2],[-.2,-.7,.15,.1]];

const titleLabels=["(a) Argon","(b) Helium"];
const speedLabels=["0","1.5"];
const cbarLabels=["300","2792"];

const color=d3.scaleLinear().domain(spectralStops).range(spectralColors).interpolate(d3.interpolateRgb);
const W=1009,H=1009;
const x=d3.scaleLinear().domain([-5,10]).range([0,W]);
const y=d3.scaleLinear().domain([7.5,-7.5]).range([0,H]);
const cellZ=d3.scaleThreshold().domain(bandTop.slice(1).reverse()).range(d3.range(bandTop.length-1,-1,-1));
const lattice=[];
d3.range(7.42,-2,-.17).forEach((z,j)=>{d3.range(-5+.05+(j%3)*.16,10,.48).forEach(px=>lattice.push([px,z]));});
const svg=d3.select("#c");
const defs=svg.append("defs");
const line=d3.line().x(d=>x(d[0])).y(d=>y(d[1]));
const closed=d3.line().x(d=>x(d[0])).y(d=>y(d[1])).curve(d3.curveCatmullRomClosed.alpha(.5));

function arrow(px,pz,dx,dz,o){
  const a=x(px),b=y(pz),c=x(px+dx),d=y(pz+dz),L=Math.hypot(c-a,d-b);
  if(L<3)return "";
  const ux=(c-a)/L,uy=(d-b)/L,nx=-uy,ny=ux;
  const hl=Math.min(o.hl,L*.55),hw=hl*o.hw,sw=Math.min(o.sw,L*.08+.25);
  const p=[[a+nx*sw,b+ny*sw],[c-ux*hl+nx*sw,d-uy*hl+ny*sw],[c-ux*hl+nx*hw,d-uy*hl+ny*hw],[c,d],[c-ux*hl-nx*hw,d-uy*hl-ny*hw],[c-ux*hl-nx*sw,d-uy*hl-ny*sw],[a-nx*sw,b-ny*sw]];
  return "M"+p.map(q=>q[0].toFixed(1)+","+q[1].toFixed(1)).join("L")+"Z";
}
function panel(id,left,top,iso,U,V,extra,pool,poolTop,o){
  const g=svg.append("g").attr("transform",`translate(${left},${top})`);
  defs.append("clipPath").attr("id",id).append("rect").attr("width",W).attr("height",H);
  const plot=g.append("g").attr("clip-path",`url(#${id})`);
  plot.append("rect").attr("width",W).attr("height",H).attr("fill",color(levelTemps[0]));
  plot.selectAll("path.iso").data(iso).join("path").attr("class","iso").attr("d",closed).attr("fill",(d,i)=>color(levelTemps[i+1]));
  plot.selectAll("line.vmin").data(xMinor).join("line").attr("class","vmin").attr("x1",x).attr("x2",x).attr("y2",H).attr("stroke","#000").attr("stroke-opacity",.25).attr("stroke-width",1.2);
  plot.selectAll("line.hmin").data(zMinor).join("line").attr("class","hmin").attr("y1",y).attr("y2",y).attr("x2",W).attr("stroke","#000").attr("stroke-opacity",.25).attr("stroke-width",1.2);
  plot.selectAll("line.vmaj").data(xMajor).join("line").attr("class","vmaj").attr("x1",x).attr("x2",x).attr("y2",H).attr("stroke","#000").attr("stroke-opacity",.55).attr("stroke-width",1.7);
  plot.selectAll("line.hmaj").data(zMajor).join("line").attr("class","hmaj").attr("y1",y).attr("y2",y).attr("x2",W).attr("stroke","#000").attr("stroke-opacity",.55).attr("stroke-width",1.7);
  const field=lattice.map(([px,pz])=>{
    const row=cellZ(pz),col=Math.max(0,Math.floor(px+5));
    return [px,pz,U[row][col]/100,V[row][col]/100];
  }).filter(d=>d[2]||d[3]).concat(extra);
  plot.append("path").attr("fill","#000").attr("d",field.map(d=>arrow(d[0],d[1],d[2],d[3],o)).join(""));
  plot.append("path").datum(pool).attr("d",line).attr("fill","none").attr("stroke","#000").attr("stroke-width",2.2).attr("stroke-linejoin","round");
  plot.append("path").datum(poolTop).attr("d",line).attr("fill","none").attr("stroke","#000").attr("stroke-width",2.2).attr("stroke-linejoin","round");
  return g;
}
function axes(g,labelX,labelY){
  const fs=78;
  const add=(ax,tr,vals,size,w,fmt,pad)=>{
    const a=g.append("g").attr("transform",tr).call(ax.tickValues(vals).tickSizeOuter(0).tickSizeInner(size).tickPadding(pad).tickFormat(fmt));
    a.select(".domain").remove();
    a.selectAll("line").attr("stroke","#000").attr("stroke-width",w);
    a.selectAll("text").attr("font-size",fs).attr("font-family","Liberation Serif").attr("fill","#000");
  };
  const none=()=>"";
  const fmt=d3.format("d");
  add(d3.axisBottom(x),`translate(0,${H})`,xMinor,-11,1.8,none,0);
  add(d3.axisBottom(x),`translate(0,${H})`,xMajor,-16,2.2,labelX?fmt:none,24);
  add(d3.axisTop(x),`translate(0,0)`,xMinor,-11,1.8,none,0);
  add(d3.axisTop(x),`translate(0,0)`,xMajor,-16,2.2,none,0);
  add(d3.axisLeft(y),`translate(0,0)`,zMinor,-11,1.8,none,0);
  add(d3.axisLeft(y),`translate(0,0)`,zMajor,-16,2.2,labelY?fmt:none,26);
  add(d3.axisRight(y),`translate(${W},0)`,zMinor,-11,1.8,none,0);
  add(d3.axisRight(y),`translate(${W},0)`,zMajor,-16,2.2,none,0);
  g.append("rect").attr("width",W).attr("height",H).attr("fill","none").attr("stroke","#000").attr("stroke-width",3.6);
}
function tspans(t,parts){
  parts.forEach(p=>{const s=t.append("tspan").text(p.t).attr("font-size",p.s||78);
    if(p.x!=null)s.attr("x",p.x); if(p.y!=null)s.attr("y",p.y);
    if(p.i)s.attr("font-style","italic");});
}
function speed(g,val){
  const t=g.append("text").attr("fill","#fff");
  const o=val==="0"?[190,241,306,343]:[195,300,365,402];
  tspans(t,[{t:"u",i:1,x:63,y:89},{t:"∞",s:68,x:105,y:101},{t:"=",x:184,y:89},{t:val,x:63+o[0],y:89},{t:"m",x:63+o[1],y:89},{t:"/",s:98,x:63+o[2],y:99},{t:"s",x:63+o[3],y:89}]);
}
function cbar(left,top){
  const g=svg.append("g").attr("transform",`translate(${left},${top})`);
  const s=d3.scaleLinear().domain([300,2792]).range([H,0]);
  const temps=d3.range(300,2792,2492/96);
  g.selectAll("rect.b").data(temps).join("rect").attr("class","b").attr("x",0).attr("width",82)
   .attr("y",d=>s(d+2492/96)).attr("height",H/96+.6).attr("fill",d=>color(d+2492/192));
  g.append("rect").attr("width",82).attr("height",H).attr("fill","none").attr("stroke","#000").attr("stroke-width",3.6);
  cbarLabels.forEach(l=>g.append("text").text(l).attr("x",107).attr("y",s(+l)+26).attr("font-size",78));
  g.append("text").attr("transform",`translate(235,504) rotate(-90)`).attr("text-anchor","middle").call(t=>tspans(t,[{t:"T",i:1,s:80},{t:" in K",s:80}]));
}
const L=[204,1404],T=[187,1297];
const thin={hl:8,hw:.34,sw:.75}, thick={hl:13,hw:.38,sw:1.35};
const gs=[
 panel("p0",L[0],T[0],argonStillIso,argonStillU,argonStillV,argonStillArrows,argonStillPool,argonStillTop,thin),
 panel("p1",L[1],T[0],heliumStillIso,heliumStillU,heliumStillV,heliumStillArrows,heliumStillPool,heliumStillTop,thin),
 panel("p2",L[0],T[1],argonFlowIso,argonFlowU,argonFlowV,argonFlowArrows,argonFlowPool,argonFlowTop,thick),
 panel("p3",L[1],T[1],heliumFlowIso,heliumFlowU,heliumFlowV,heliumFlowArrows,heliumFlowPool,heliumFlowTop,thick)];
gs.forEach((g,i)=>{axes(g,i>1,i%2===0);speed(g,speedLabels[i>1?1:0]);});
cbar(2413,T[0]);cbar(2413,T[1]);
[702,1901].forEach((cx,i)=>svg.append("text").text(titleLabels[i]).attr("x",cx).attr("y",103).attr("text-anchor","middle").attr("font-size",83));
function slashLabel(t,v){tspans(t,[{t:v,i:1,x:0,y:0},{t:"/",s:100,x:42,y:12},{t:"r",i:1,x:80,y:0},{t:"σ",i:1,s:56,x:110,y:14},{t:"→",s:115,x:166,y:9}]);}
[576,1774].forEach(px=>{const t=svg.append("text").attr("transform",`translate(${px},2443)`);slashLabel(t,"x");});
[826,1935].forEach(py=>{const t=svg.append("text").attr("transform",`translate(100,${py}) rotate(-90)`);slashLabel(t,"z");});
</script></body></html>
